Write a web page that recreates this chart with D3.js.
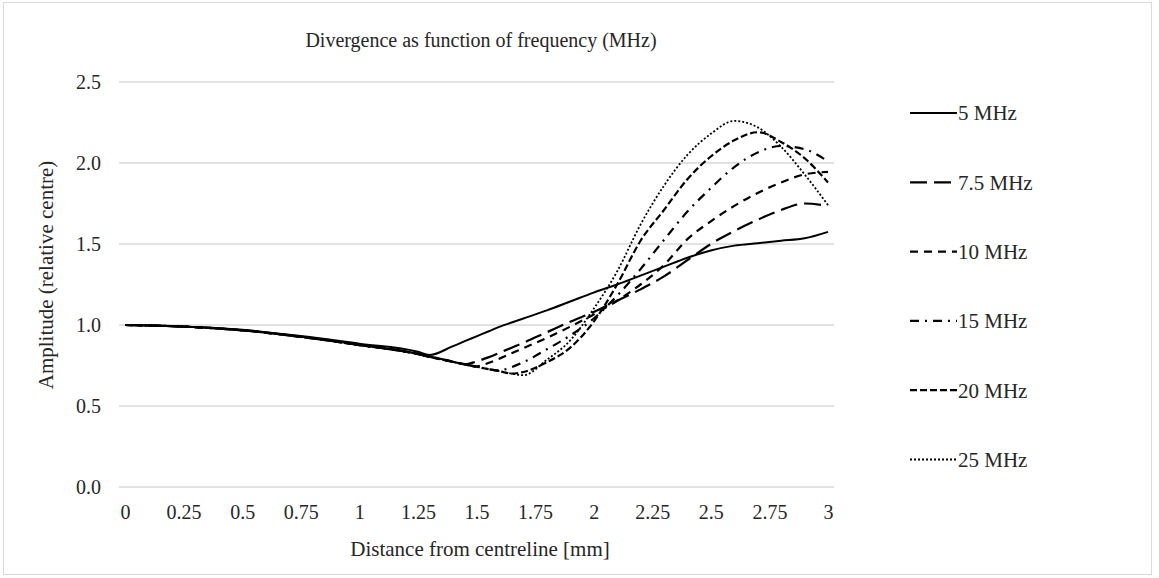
<!DOCTYPE html>
<html lang="en">
<head>
  <meta charset="UTF-8">
  <title>Divergence as function of frequency (MHz)</title>
  <script src="https://d3js.org/d3.v7.min.js"></script>
  <style>
    body { margin: 0; background: #fff; }
    svg text { font-family: "Liberation Serif", "Times New Roman", "DejaVu Serif", serif !important; fill: #262626; }
  </style>
</head>
<body>
  <div id="chart"></div>

  <script>
    // Data
    const distance = [0, 0.25, 0.5, 0.75, 1, 1.25, 1.3, 1.4, 1.45, 1.5, 1.55, 1.6, 1.65, 1.7,
                      1.8, 1.9, 2, 2.1, 2.2, 2.3, 2.4, 2.5, 2.6, 2.7, 2.8, 2.9, 3];

    const mhz5   = [1.0, 0.99, 0.97, 0.932, 0.885, 0.835, 0.815, 0.87, 0.90, 0.93, 0.96, 0.99, 1.015, 1.04,
                    1.09, 1.145, 1.20, 1.25, 1.305, 1.36, 1.415, 1.46, 1.49, 1.505, 1.52, 1.535, 1.575];
    const mhz7_5 = [1.0, 0.99, 0.968, 0.928, 0.878, 0.823, 0.806, 0.775, 0.757, 0.775, 0.80, 0.83, 0.86, 0.89,
                    0.955, 1.02, 1.08, 1.15, 1.22, 1.30, 1.40, 1.50, 1.58, 1.65, 1.71, 1.75, 1.735];
    const mhz10  = [1.0, 0.99, 0.967, 0.927, 0.877, 0.822, 0.805, 0.773, 0.758, 0.745, 0.765, 0.794, 0.825, 0.857,
                    0.92, 0.99, 1.065, 1.15, 1.25, 1.37, 1.53, 1.64, 1.735, 1.815, 1.88, 1.93, 1.945];
    const mhz15  = [1.0, 0.99, 0.967, 0.927, 0.876, 0.82, 0.803, 0.772, 0.757, 0.742, 0.728, 0.72, 0.74, 0.77,
                    0.85, 0.935, 1.04, 1.18, 1.345, 1.525, 1.70, 1.845, 1.975, 2.065, 2.105, 2.085, 2.01];
    const mhz20  = [1.0, 0.99, 0.967, 0.927, 0.876, 0.82, 0.803, 0.772, 0.757, 0.742, 0.728, 0.714, 0.70, 0.71,
                    0.77, 0.86, 1.02, 1.25, 1.52, 1.71, 1.90, 2.04, 2.14, 2.19, 2.13, 2.03, 1.88];
    const mhz25  = [1.0, 0.99, 0.967, 0.927, 0.876, 0.82, 0.803, 0.772, 0.757, 0.742, 0.728, 0.714, 0.70, 0.69,
                    0.785, 0.905, 1.10, 1.33, 1.62, 1.86, 2.05, 2.18, 2.26, 2.22, 2.10, 1.93, 1.74];

    const seriesNames = ["5 MHz", "7.5 MHz", "10 MHz", "15 MHz", "20 MHz", "25 MHz"];
    const seriesValues = [mhz5, mhz7_5, mhz10, mhz15, mhz20, mhz25];

    const xTicks = [0, 0.25, 0.5, 0.75, 1, 1.25, 1.5, 1.75, 2, 2.25, 2.5, 2.75, 3];
    const yTicks = [0, 0.5, 1, 1.5, 2, 2.5];

    // line styles per series
    const dashes = ["none", "17,7", "8,6", "9,6,2,6", "7,3", "2,2"];
    const widths = [2, 2.2, 2.2, 2.2, 2.2, 1.8];

    const font = '"Liberation Serif", "Times New Roman", serif';
    const width = 1159, height = 578;

    const svg = d3.select("#chart").append("svg")
      .attr("width", width)
      .attr("height", height);

    // chart area border
    svg.append("rect")
      .attr("x", 3.5).attr("y", 2.5)
      .attr("width", 1148).attr("height", 572)
      .attr("fill", "#fff")
      .attr("stroke", "#d9d9d9");

    const x = d3.scaleLinear().domain([0, 3]).range([125, 828]);
    const y = d3.scaleLinear().domain([0, 2.5]).range([487, 82]);

    // gridlines
    svg.append("g")
      .selectAll("line")
      .data(yTicks)
      .join("line")
        .attr("x1", 119)
        .attr("x2", 834)
        .attr("y1", d => y(d))
        .attr("y2", d => y(d))
        .attr("stroke", "#d9d9d9")
        .attr("stroke-width", 1.3);

    // y axis labels
    svg.append("g")
      .attr("transform", "translate(101,0)")
      .call(d3.axisLeft(y).tickValues(yTicks).tickFormat(d3.format(".1f")).tickSize(0).tickPadding(0))
      .attr("font-family", font)
      .attr("font-size", 20)
      .call(g => g.select(".domain").remove())
      .call(g => g.selectAll("text").attr("fill", "#262626"));

    // x axis labels
    svg.append("g")
      .attr("transform", "translate(0,505)")
      .call(d3.axisBottom(x).tickValues(xTicks).tickFormat(d => String(d)).tickSize(0).tickPadding(0))
      .attr("font-family", font)
      .attr("font-size", 20)
      .call(g => g.select(".domain").remove())
      .call(g => g.selectAll("text").attr("fill", "#262626"));

    // lines
    const line = d3.line()
      .x((d, i) => x(distance[i]))
      .y(d => y(d))
      .curve(d3.curveMonotoneX);

    svg.append("g")
      .selectAll("path")
      .data(seriesValues)
      .join("path")
        .attr("d", d => line(d))
        .attr("fill", "none")
        .attr("stroke", "#000")
        .attr("stroke-width", (d, i) => widths[i])
        .attr("stroke-dasharray", (d, i) => dashes[i]);

    // title
    svg.append("text")
      .attr("x", 481)
      .attr("y", 47)
      .attr("text-anchor", "middle")
      .attr("font-family", font)
      .attr("font-size", 20)
      .text("Divergence as function of frequency (MHz)");

    // axis titles
    svg.append("text")
      .attr("x", 480)
      .attr("y", 556)
      .attr("text-anchor", "middle")
      .attr("font-family", font)
      .attr("font-size", 21)
      .text("Distance from centreline [mm]");

    svg.append("text")
      .attr("transform", "translate(53,275) rotate(-90)")
      .attr("text-anchor", "middle")
      .attr("font-family", font)
      .attr("font-size", 21)
      .text("Amplitude (relative centre)");

    // legend
    const legend = svg.append("g")
      .selectAll("g")
      .data(seriesNames)
      .join("g")
        .attr("transform", (d, i) => `translate(910,${113 + i * 69.3})`);

    legend.append("line")
      .attr("x1", 0).attr("x2", 47)
      .attr("stroke", "#000")
      .attr("stroke-width", (d, i) => widths[i])
      .attr("stroke-dasharray", (d, i) => dashes[i]);

    legend.append("text")
      .attr("x", 48)
      .attr("dy", "0.35em")
      .attr("font-family", font)
      .attr("font-size", 21)
      .text(d => d);
  </script>
</body>
</html>
